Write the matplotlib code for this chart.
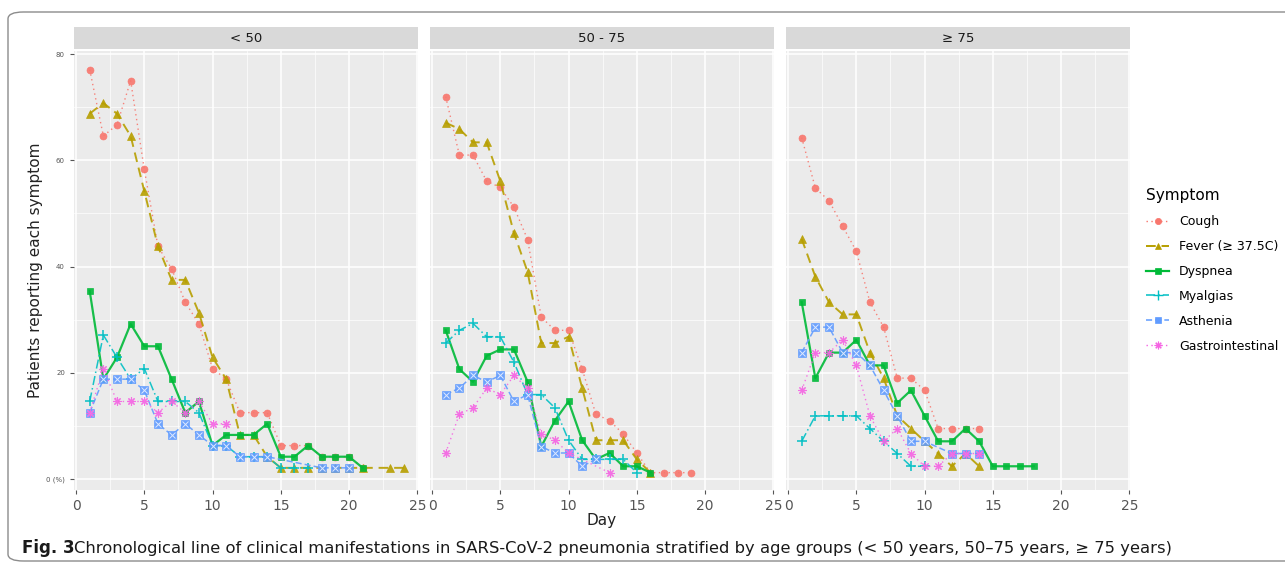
import matplotlib
matplotlib.use("Agg")
import matplotlib.pyplot as plt
from matplotlib.lines import Line2D
from matplotlib.patches import FancyBboxPatch

# age groups (facet strips)
groups = ["< 50", "50 - 75", "\u2265 75"]
symptoms = ["Cough", "Fever (\u2265 37.5C)", "Dyspnea", "Myalgias", "Asthenia", "Gastrointestinal"]

# < 50
cough_lt50_days = list(range(1, 22))
cough_lt50 = [77.1, 64.6, 66.7, 75.0, 58.3, 43.8, 39.6, 33.3, 29.2, 20.8, 18.8, 12.5, 12.5, 12.5,
              6.3, 6.3, 6.3, 4.2, 4.2, 4.2, 2.1]
fever_lt50_days = list(range(1, 22)) + [23, 24]
fever_lt50 = [68.8, 70.8, 68.8, 64.6, 54.2, 43.8, 37.5, 37.5, 31.3, 22.9, 18.8, 8.3, 8.3, 4.2,
              2.1, 2.1, 2.1, 2.1, 2.1, 2.1, 2.1, 2.1, 2.1]
dyspnea_lt50_days = list(range(1, 22))
dyspnea_lt50 = [35.4, 18.8, 22.9, 29.2, 25.0, 25.0, 18.8, 12.5, 14.6, 6.3, 8.3, 8.3, 8.3, 10.4,
                4.2, 4.2, 6.3, 4.2, 4.2, 4.2, 2.1]
myalgia_lt50_days = list(range(1, 18))
myalgia_lt50 = [14.6, 27.1, 22.9, 18.8, 20.8, 14.6, 14.6, 14.6, 12.5, 6.3, 6.3, 4.2, 4.2, 4.2,
                2.1, 2.1, 2.1]
asthenia_lt50_days = list(range(1, 15)) + [18, 19, 20]
asthenia_lt50 = [12.5, 18.8, 18.8, 18.8, 16.7, 10.4, 8.3, 10.4, 8.3, 6.3, 6.3, 4.2, 4.2, 4.2,
                 2.1, 2.1, 2.1]
gastro_lt50_days = list(range(1, 12))
gastro_lt50 = [12.5, 20.8, 14.6, 14.6, 14.6, 12.5, 14.6, 12.5, 14.6, 10.4, 10.4]

# 50 - 75
cough_mid_days = list(range(1, 20))
cough_mid = [72.0, 61.0, 61.0, 56.1, 54.9, 51.2, 45.1, 30.5, 28.0, 28.0, 20.7, 12.2, 11.0, 8.5,
             4.9, 1.2, 1.2, 1.2, 1.2]
fever_mid_days = list(range(1, 17))
fever_mid = [67.1, 65.9, 63.4, 63.4, 56.1, 46.3, 39.0, 25.6, 25.6, 26.8, 17.1, 7.3, 7.3, 7.3,
             3.7, 1.2]
dyspnea_mid_days = list(range(1, 17))
dyspnea_mid = [28.0, 20.7, 18.3, 23.2, 24.4, 24.4, 18.3, 6.1, 11.0, 14.6, 7.3, 3.7, 4.9, 2.4,
               2.4, 1.2]
myalgia_mid_days = list(range(1, 16))
myalgia_mid = [25.6, 28.0, 29.3, 26.8, 26.8, 22.0, 15.9, 15.9, 13.4, 7.3, 3.7, 3.7, 3.7, 3.7, 1.2]
asthenia_mid_days = list(range(1, 13))
asthenia_mid = [15.9, 17.1, 19.5, 18.3, 19.5, 14.6, 15.9, 6.1, 4.9, 4.9, 2.4, 3.7]
gastro_mid_days = list(range(1, 11)) + [13]
gastro_mid = [4.9, 12.2, 13.4, 17.1, 15.9, 19.5, 17.1, 8.5, 7.3, 4.9, 1.2]

# >= 75
cough_old_days = list(range(1, 15))
cough_old = [64.3, 54.8, 52.4, 47.6, 42.9, 33.3, 28.6, 19.0, 19.0, 16.7, 9.5, 9.5, 9.5, 9.5]
fever_old_days = list(range(1, 15))
fever_old = [45.2, 38.1, 33.3, 31.0, 31.0, 23.8, 19.0, 11.9, 9.5, 7.1, 4.8, 2.4, 4.8, 2.4]
dyspnea_old_days = list(range(1, 19))
dyspnea_old = [33.3, 19.0, 23.8, 23.8, 26.2, 21.4, 21.4, 14.3, 16.7, 11.9, 7.1, 7.1, 9.5, 7.1,
               2.4, 2.4, 2.4, 2.4]
myalgia_old_days = list(range(1, 11))
myalgia_old = [7.1, 11.9, 11.9, 11.9, 11.9, 9.5, 7.1, 4.8, 2.4, 2.4]
asthenia_old_days = list(range(1, 11)) + [12, 13, 14]
asthenia_old = [23.8, 28.6, 28.6, 23.8, 23.8, 21.4, 16.7, 11.9, 7.1, 7.1, 4.8, 4.8, 4.8]
gastro_old_days = list(range(1, 15))
gastro_old = [16.7, 23.8, 23.8, 26.2, 21.4, 11.9, 7.1, 9.5, 4.8, 2.4, 2.4, 4.8, 4.8, 4.8]

panels = [
    [(cough_lt50_days, cough_lt50), (fever_lt50_days, fever_lt50), (dyspnea_lt50_days, dyspnea_lt50),
     (myalgia_lt50_days, myalgia_lt50), (asthenia_lt50_days, asthenia_lt50), (gastro_lt50_days, gastro_lt50)],
    [(cough_mid_days, cough_mid), (fever_mid_days, fever_mid), (dyspnea_mid_days, dyspnea_mid),
     (myalgia_mid_days, myalgia_mid), (asthenia_mid_days, asthenia_mid), (gastro_mid_days, gastro_mid)],
    [(cough_old_days, cough_old), (fever_old_days, fever_old), (dyspnea_old_days, dyspnea_old),
     (myalgia_old_days, myalgia_old), (asthenia_old_days, asthenia_old), (gastro_old_days, gastro_old)],
]

# ggplot default hue palette / shapes
colors = ["#F8766D", "#B79F00", "#00BA38", "#00BFC4", "#619CFF", "#F564E3"]
markers = ["o", "^", "s", "+", "s", (8, 2, 0)]
msizes = [5, 5.5, 5, 7, 5.5, 6]
mews = [0.5, 0.5, 0.5, 1.2, 0.5, 0.8]
styles = [(0, (1, 2.5)), (0, (5, 3)), "-", (0, (6, 2, 1, 2)), (0, (4, 2)), (0, (1, 2.5))]
widths = [1.0, 1.4, 1.6, 1.1, 1.1, 1.0]

W, H = 1285, 567
fig = plt.figure(figsize=(W / 100, H / 100), dpi=100)

# rounded frame around the figure
fig.patches.append(FancyBboxPatch((8 / W, 6 / H), 1.2, 1 - 18 / H, boxstyle="round,pad=0,rounding_size=0.012",
                                  transform=fig.transFigure, fill=False, ec="#8c8c8c", lw=1.0))

lefts = [74, 430, 786]
pw = 344
top, bot = 51, 490
for k, left in enumerate(lefts):
    ax = fig.add_axes([left / W, 1 - bot / H, pw / W, (bot - top) / H])
    ax.set_facecolor("#EBEBEB")
    for s in ax.spines.values():
        s.set_visible(False)
    ax.set_xlim(-0.15, 25.05)
    ax.set_ylim(-2.07, 80.6)
    ax.set_xticks([0, 5, 10, 15, 20, 25])
    ax.set_xticks([2.5, 7.5, 12.5, 17.5, 22.5], minor=True)
    ax.set_yticks([0, 20, 40, 60, 80])
    ax.set_yticks([10, 30, 50, 70], minor=True)
    ax.grid(True, which="major", color="white", lw=1.1)
    ax.grid(True, which="minor", color="white", lw=0.5)
    ax.set_axisbelow(True)
    ax.tick_params(which="minor", length=0)
    ax.tick_params(axis="x", which="major", length=3, color="#555555", labelsize=10, labelcolor="#555555")
    ax.tick_params(axis="y", which="major", length=3, color="#555555", labelsize=5, labelcolor="#555555")
    if k == 0:
        ax.set_yticklabels(["0 (%)", "20", "40", "60", "80"])
        ax.set_ylabel("Patients reporting each symptom", fontsize=11, color="#222222", labelpad=2)
    else:
        ax.set_yticklabels([])
        ax.tick_params(axis="y", length=0)
    for i, (d, v) in enumerate(panels[k]):
        ax.plot(d, v, color=colors[i], linestyle=styles[i], lw=widths[i], marker=markers[i],
                markersize=msizes[i], markeredgewidth=mews[i], alpha=0.9)
        if i == 4:
            # square-with-cross shape
            ax.plot(d, v, linestyle="none", marker="x", markersize=4, color="#DDE8FF", markeredgewidth=0.7)

    # strip
    sx = fig.add_axes([left / W, 1 - 49 / H, pw / W, 22 / H])
    sx.set_facecolor("#D9D9D9")
    sx.set_xticks([])
    sx.set_yticks([])
    for s in sx.spines.values():
        s.set_visible(False)
    sx.text(0.5, 0.5, groups[k], ha="center", va="center", fontsize=9.5, color="#1A1A1A",
            transform=sx.transAxes)

fig.text(602 / W, 1 - 520 / H, "Day", ha="center", va="center", fontsize=11, color="#222222")

handles = [Line2D([], [], color=colors[i], linestyle=styles[i], lw=widths[i], marker=markers[i],
                  markersize=msizes[i] - 0.5, markeredgewidth=min(mews[i], 1.0)) for i in range(6)]
leg = fig.legend(handles, symptoms, loc="upper left", bbox_to_anchor=(1140 / W, 1 - 182 / H),
                 frameon=False, fontsize=9, title="Symptom", title_fontsize=11,
                 handlelength=1.8, labelspacing=0.95, handletextpad=0.8, borderpad=0)
leg._legend_box.align = "left"

fig.text(22 / W, 1 - 548 / H, "Fig. 3", fontsize=12, fontweight="bold", va="center", color="#1a1a1a")
fig.text(74 / W, 1 - 548 / H,
         "Chronological line of clinical manifestations in SARS-CoV-2 pneumonia stratified by age groups "
         "(< 50 years, 50\u201375 years, \u2265 75 years)",
         fontsize=11.8, va="center", color="#1a1a1a")

fig.savefig("out.png", dpi=100)
